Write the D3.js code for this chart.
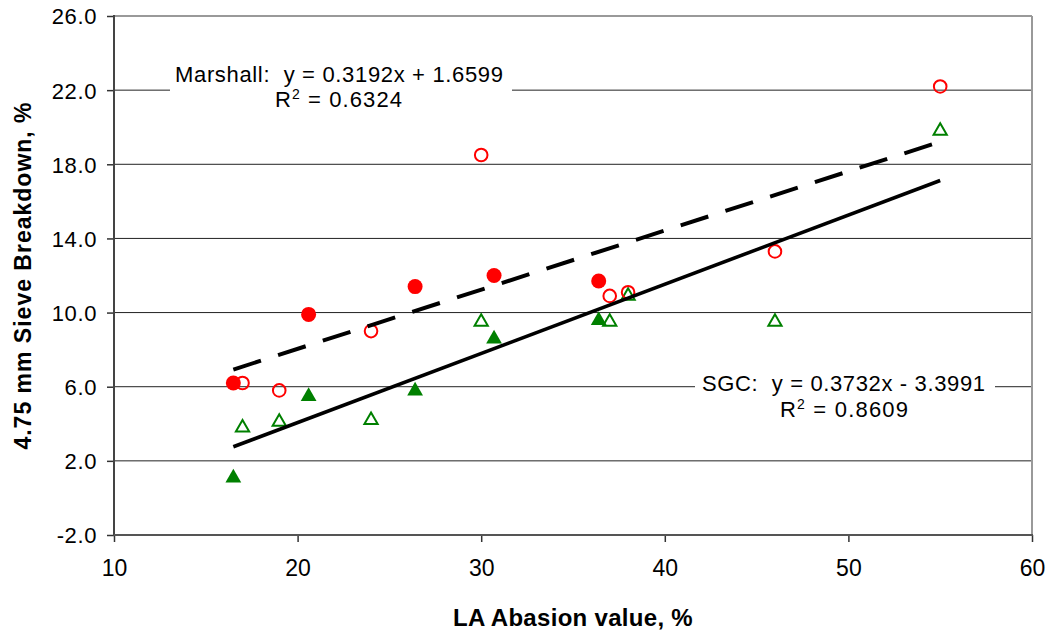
<!DOCTYPE html>
<html>
<head>
<meta charset="utf-8">
<script src="https://cdn.jsdelivr.net/npm/d3@7"></script>
<style>
  body { margin: 0; background: #fff; }
  svg { display: block; }
  text { font-family: "Liberation Sans", Arial, sans-serif; fill: #000; }
</style>
</head>
<body>
<svg id="chart" width="1049" height="634"></svg>
<script>
// LA abrasion value (%) vs. 4.75 mm sieve breakdown (%)
// Aggregates tested in both mixes; filled and open markers are the two aggregate groups.
const laFilled = [16.5, 20.6, 26.4, 30.7, 36.4];
const marshallFilled = [6.2, 9.9, 11.4, 12.0, 11.7];
const sgcFilled = [1.2, 5.6, 5.9, 8.7, 9.7];

const laOpen = [17.0, 19.0, 24.0, 30.0, 37.0, 38.0, 46.0, 55.0];
const marshallOpen = [6.2, 5.8, 9.0, 18.5, 10.9, 11.1, 13.3, 22.2];
const sgcOpen = [3.9, 4.2, 4.3, 9.6, 9.6, 11.0, 9.6, 19.9];

// Linear trend lines: [slope, intercept, R²]
const marshallFit = [0.3192, 1.6599, 0.6324];
const sgcFit = [0.3732, -3.3991, 0.8609];

const xTicks = [10, 20, 30, 40, 50, 60];
const yTicks = [-2, 2, 6, 10, 14, 18, 22, 26];

const svg = d3.select("#chart");
const plotL = 114, plotR = 1032, plotT = 16, plotB = 535;

const x = d3.scaleLinear().domain([10, 60]).range([plotL, plotR]);
const y = d3.scaleLinear().domain([-2, 26]).range([plotB, plotT]);

const RED = "#ff0000", GREEN = "#008000";

// horizontal gridlines
svg.append("g")
  .selectAll("line")
  .data(yTicks.filter(v => v > -2 && v < 26))
  .join("line")
  .attr("x1", plotL).attr("x2", plotR)
  .attr("y1", d => y(d)).attr("y2", d => y(d))
  .attr("stroke", "#222").attr("stroke-width", 1);

// plot-area frame
svg.append("line").attr("x1", plotL).attr("x2", plotR).attr("y1", plotT).attr("y2", plotT)
  .attr("stroke", "#999").attr("stroke-width", 2);
svg.append("line").attr("x1", plotR).attr("x2", plotR).attr("y1", plotT).attr("y2", plotB)
  .attr("stroke", "#999").attr("stroke-width", 2);

// axes
const yAxis = d3.axisLeft(y).tickValues(yTicks).tickSize(7).tickSizeOuter(0)
  .tickPadding(10).tickFormat(d => d.toFixed(1));
const gy = svg.append("g").attr("transform", `translate(${plotL},0)`).call(yAxis);
gy.select(".domain").remove();
gy.selectAll(".tick line").attr("stroke", "#333").attr("stroke-width", 1.5);
gy.selectAll(".tick text")
  .attr("font-family", '"Liberation Sans", Arial, sans-serif')
  .attr("font-size", 22).attr("letter-spacing", "0.6px").attr("dy", "0.36em");

const xAxis = d3.axisBottom(x).tickValues(xTicks).tickSize(7).tickSizeOuter(0)
  .tickFormat(d => String(d));
const gx = svg.append("g").attr("transform", `translate(0,${plotB})`).call(xAxis);
gx.select(".domain").remove();
gx.selectAll(".tick line").attr("stroke", "#333").attr("stroke-width", 1.5);
gx.selectAll(".tick text")
  .attr("font-family", '"Liberation Sans", Arial, sans-serif')
  .attr("font-size", 23).attr("y", 41).attr("dy", 0);

svg.append("line").attr("x1", plotL).attr("x2", plotL).attr("y1", plotT - 1).attr("y2", plotB + 1)
  .attr("stroke", "#444").attr("stroke-width", 2);
svg.append("line").attr("x1", plotL).attr("x2", plotR + 1).attr("y1", plotB).attr("y2", plotB)
  .attr("stroke", "#555").attr("stroke-width", 2);

// triangle marker centred on its bounding box
const boxTriangle = {
  draw(ctx, size) {
    const s = Math.sqrt(size * 4 / Math.sqrt(3));
    const h = s * Math.sqrt(3) / 2;
    ctx.moveTo(0, -h / 2);
    ctx.lineTo(s / 2, h / 2);
    ctx.lineTo(-s / 2, h / 2);
    ctx.closePath();
  }
};

const pts = (xs, ys) => xs.map((v, i) => [v, ys[i]]);

// SGC markers
svg.append("g").selectAll("path")
  .data(pts(laFilled, sgcFilled)).join("path")
  .attr("d", d3.symbol(boxTriangle, 108))
  .attr("transform", d => `translate(${x(d[0])},${y(d[1])})`)
  .attr("fill", GREEN);
svg.append("g").selectAll("path")
  .data(pts(laOpen, sgcOpen)).join("path")
  .attr("d", d3.symbol(boxTriangle, 76))
  .attr("transform", d => `translate(${x(d[0])},${y(d[1])})`)
  .attr("fill", "none").attr("stroke", GREEN).attr("stroke-width", 2);

// Marshall markers
svg.append("g").selectAll("circle")
  .data(pts(laFilled, marshallFilled)).join("circle")
  .attr("cx", d => x(d[0])).attr("cy", d => y(d[1])).attr("r", 7.5)
  .attr("fill", RED);
svg.append("g").selectAll("circle")
  .data(pts(laOpen, marshallOpen)).join("circle")
  .attr("cx", d => x(d[0])).attr("cy", d => y(d[1])).attr("r", 6.3)
  .attr("fill", "none").attr("stroke", RED).attr("stroke-width", 2);

// trend lines over the data range
const xr = d3.extent(laFilled.concat(laOpen));
const line = d3.line().x(d => x(d[0])).y(d => y(d[1]));
const fitPts = f => xr.map(v => [v, f[0] * v + f[1]]);

svg.append("path").datum(fitPts(marshallFit)).attr("d", line)
  .attr("fill", "none").attr("stroke", "#000").attr("stroke-width", 4)
  .attr("stroke-dasharray", "29,18");
svg.append("path").datum(fitPts(sgcFit)).attr("d", line)
  .attr("fill", "none").attr("stroke", "#000").attr("stroke-width", 3.6);

// trend line labels
const f4 = d3.format(".4f");
const eq = (name, f) => `${name}:\u00a0\u00a0y = ${f4(f[0])}x ${f[1] < 0 ? "-" : "+"} ${f4(Math.abs(f[1]))}`;

function fitLabel(name, f, box, l1, l2) {
  svg.append("rect").attr("x", box[0]).attr("y", box[1]).attr("width", box[2]).attr("height", box[3])
    .attr("fill", "#fff");
  svg.append("text").attr("x", l1[0]).attr("y", l1[1]).attr("font-size", 22)
    .attr("textLength", l1[2]).attr("lengthAdjust", "spacing")
    .text(eq(name, f));
  const t = svg.append("text").attr("x", l2[0]).attr("y", l2[1]).attr("font-size", 22)
    .attr("textLength", l2[2]).attr("lengthAdjust", "spacing");
  t.append("tspan").text("R");
  t.append("tspan").attr("font-size", 14).attr("dy", -8).text("2");
  t.append("tspan").attr("dy", 8).text(" = " + f4(f[2]));
}

fitLabel("Marshall", marshallFit, [170, 62, 342, 52], [175, 82, 328], [275, 107, 127]);
fitLabel("SGC", sgcFit, [695, 368, 300, 56], [702, 391, 283], [780, 417, 128]);

// axis titles
svg.append("text")
  .attr("x", (plotL + plotR) / 2).attr("y", 626)
  .attr("text-anchor", "middle").attr("font-size", 24).attr("font-weight", "bold")
  .attr("letter-spacing", "0.3px")
  .text("LA Abasion value, %");

svg.append("text")
  .attr("transform", `translate(31,${(plotT + plotB) / 2}) rotate(-90)`)
  .attr("text-anchor", "middle").attr("font-size", 23).attr("font-weight", "bold")
  .attr("letter-spacing", "1px")
  .text("4.75 mm Sieve Breakdown, %");
</script>
</body>
</html>
